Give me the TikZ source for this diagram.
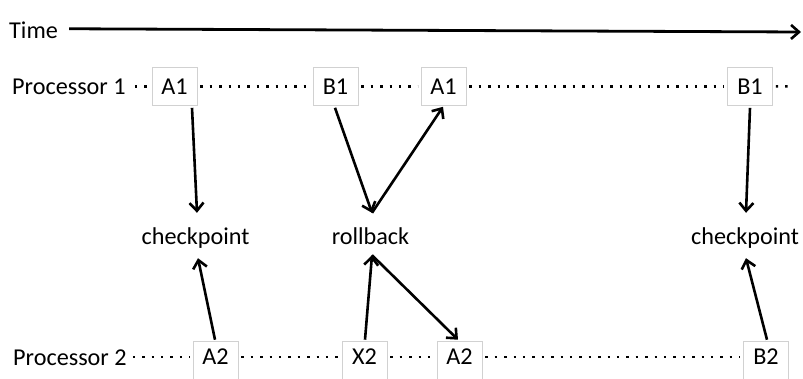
\documentclass[tikz,border=0pt]{standalone}
\usepackage{fontspec}
\setmainfont{Carlito}
\usetikzlibrary{arrows.meta}
\begin{document}
\begin{tikzpicture}[x=1pt,y=-1pt,
  every node/.style={font=\fontsize{24.2}{29}\selectfont},
  lbl/.style={inner sep=0pt,anchor=base west},
  evbox/.style={draw=black!18,line width=0.6pt,minimum width=45pt,inner sep=0pt},
  row1/.style={evbox,minimum height=38pt},
  row2/.style={evbox,minimum height=40pt,text height=15pt,text depth=8pt},
  mid/.style={inner sep=0pt,anchor=base,text height=17pt,text depth=5pt},
  dots/.style={line width=2.4pt,dash pattern=on 2.4pt off 7pt,shorten <=3pt,shorten >=3pt},
  arr/.style={line width=2.6pt,-{Straight Barb[length=8pt,width=14pt,line width=2.6pt]}}
]
\useasboundingbox (0,0) rectangle (803,378);
% time
\node[lbl] (time) at (9,38) {Time};
\coordinate (tend) at (801,32);
\draw[arr,line width=2.8pt] ([xshift=11pt,yshift=1pt]time.east) -- (tend);
% processor 1
\node[lbl] (p1) at (12,94) {Processor 1};
\node[row1] (a1) at (174.5,86.5) {A1};
\node[row1] (b1) at (335.5,86.5) {B1};
\node[row1] (a1b) at (443.5,86.5) {A1};
\node[row1] (b1b) at (750,86.5) {B1};
\coordinate (p1end) at (794,86.5);
\draw[dots,shorten <=9pt] (p1.east) -- (a1.west |- p1.east);
\draw[dots] (a1.east |- p1.east) -- (b1.west |- p1.east);
\draw[dots] (b1.east |- p1.east) -- (a1b.west |- p1.east);
\draw[dots] (a1b.east |- p1.east) -- (b1b.west |- p1.east);
\draw[dots] (b1b.east |- p1.east) -- (p1end);
% processor 2
\node[lbl] (p2) at (13,365) {Processor 2};
\node[row2] (a2) at (215.5,361) {A2};
\node[row2] (x2) at (364.5,361) {X2};
\node[row2] (a2b) at (459.5,361) {A2};
\node[row2] (b2) at (766,361) {B2};
\draw[dots,shorten <=6pt] (p2.east) -- (a2.west |- p2.east);
\draw[dots] (a2.east |- p2.east) -- (x2.west |- p2.east);
\draw[dots] (x2.east |- p2.east) -- (a2b.west |- p2.east);
\draw[dots] (a2b.east |- p2.east) -- (b2.west |- p2.east);
% middle labels
\node[mid] (cp1) at (195.5,244) {checkpoint};
\node[mid] (rb) at (370.5,244) {rollback};
\node[mid] (cp2) at (745,244) {checkpoint};
% arrows
\draw[arr] ([xshift=17.5pt,yshift=-2pt]a1.south) -- ([xshift=1.5pt,yshift=14pt]cp1.north);
\draw[arr] ([xshift=-0.5pt,yshift=-2pt]b1.south) -- ([xshift=1.5pt,yshift=14pt]rb.north);
\draw[arr] ([xshift=1.5pt,yshift=14pt]rb.north) -- ([xshift=-0.5pt,yshift=-1pt]a1b.south);
\draw[arr] ([yshift=-2pt]b1b.south) -- ([xshift=1pt,yshift=14pt]cp2.north);
\draw[arr] ([xshift=-0.5pt,yshift=1pt]a2.north) -- ([xshift=2.5pt,yshift=-9pt]cp1.south);
\draw[arr] ([xshift=0.5pt,yshift=1pt]x2.north) -- ([xshift=1.5pt,yshift=-6pt]rb.south);
\draw[arr] ([xshift=1.5pt,yshift=-6pt]rb.south) -- ([xshift=-1.5pt,yshift=1pt]a2b.north);
\draw[arr] ([xshift=1pt,yshift=1pt]b2.north) -- ([xshift=1pt,yshift=-9pt]cp2.south);
\end{tikzpicture}
\end{document}
